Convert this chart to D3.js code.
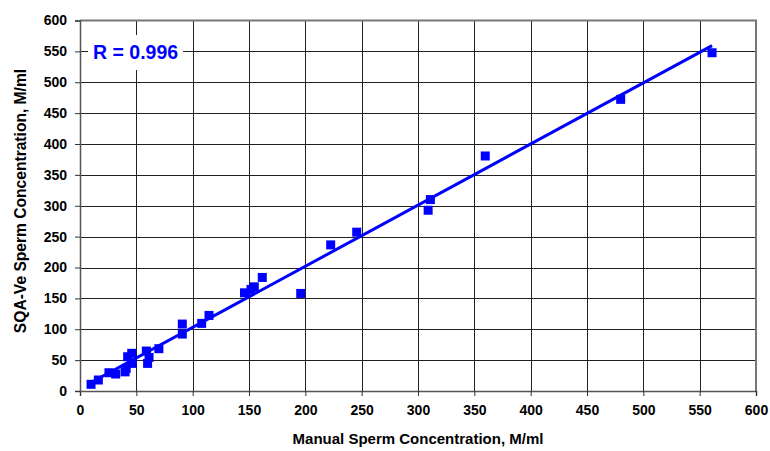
<!DOCTYPE html>
<html>
<head>
<meta charset="utf-8">
<script src="https://cdn.jsdelivr.net/npm/d3@7"></script>
<style>
  body { margin: 0; background: #fff; }
  text { font-family: "Liberation Sans", Arial, sans-serif; font-weight: bold; }
</style>
</head>
<body>
<svg id="chart" width="770" height="451"></svg>
<script>
// manual count (x) vs SQA-Ve (y), M/ml
var manual = [9.8, 16.3, 25.7, 31.7, 40, 41, 42.3, 45.9, 46.5, 58.9, 60, 61.3, 70,
  90.8, 90.8, 108, 114.5, 146, 151.8, 154.7, 161.8, 195.9, 222.5, 245.6,
  309, 311, 359.7, 479.9, 561];
var sqave = [10.8, 17.8, 29.6, 27.5, 31, 36.6, 55.5, 61, 44.7, 64.7, 44.7, 54.4, 68.5,
  108.4, 92.2, 109.5, 122.4, 159, 164.5, 168.7, 183.9, 158, 236.6, 257.2,
  292.7, 310, 380.6, 472.3, 547.8];
var ticks = d3.range(0, 601, 50);
var rLabel = "R = 0.996";
// linear trendline
var fitSlope = 0.99, fitIcpt = 4;

var svg = d3.select('#chart');
var m = {l: 80, r: 756, t: 20.5, b: 391};

var x = d3.scaleLinear().domain([0, 600]).range([m.l, m.r]);
var y = d3.scaleLinear().domain([0, 600]).range([m.b, m.t]);

// grid
svg.append('g').selectAll('line').data(ticks.slice(1, -1)).enter().append('line')
  .attr('x1', function(d){ return Math.round(x(d)) + 0.5; })
  .attr('x2', function(d){ return Math.round(x(d)) + 0.5; })
  .attr('y1', m.t).attr('y2', m.b)
  .attr('stroke', '#222').attr('stroke-width', 1);
svg.append('g').selectAll('line').data(ticks.slice(1, -1)).enter().append('line')
  .attr('y1', function(d){ return Math.round(y(d)) + 0.5; })
  .attr('y2', function(d){ return Math.round(y(d)) + 0.5; })
  .attr('x1', m.l).attr('x2', m.r)
  .attr('stroke', '#222').attr('stroke-width', 1);

// plot border top/right
svg.append('path')
  .attr('d', 'M' + m.l + ',' + m.t + 'H' + m.r + 'V' + m.b)
  .attr('fill', 'none').attr('stroke', '#777').attr('stroke-width', 2);

// axes
var xAxis = d3.axisBottom(x).tickValues(ticks).tickSize(5).tickPadding(6);
var yAxis = d3.axisLeft(y).tickValues(ticks).tickSize(5).tickPadding(6);

var gx = svg.append('g').attr('transform', 'translate(0,' + m.b + ')').call(xAxis);
var gy = svg.append('g').attr('transform', 'translate(' + m.l + ',0)').call(yAxis);
[gx, gy].forEach(function(g){
  g.select('.domain').attr('stroke', '#555').attr('stroke-width', 1.5);
  g.selectAll('.tick line').attr('stroke', '#333');
  g.selectAll('.tick text').attr('fill', '#000').style('font-size', '14px')
   .style('font-family', '"Liberation Sans", Arial, sans-serif').style('font-weight', 'bold');
});
gx.selectAll('.tick text').attr('dy', '0.9em');
gy.selectAll('.tick text').attr('dx', '-2');

// R label box
svg.append('rect').attr('x', 88).attr('y', 35).attr('width', 95).attr('height', 35).attr('fill', '#fff');
svg.append('text').attr('x', 93).attr('y', 59).attr('fill', '#0000ff')
  .style('font-size', '19.5px').text(rLabel);

// trendline over data range
var xr = d3.extent(manual);
svg.append('line')
  .attr('x1', x(xr[0])).attr('y1', y(fitIcpt + fitSlope * xr[0]))
  .attr('x2', x(xr[1])).attr('y2', y(fitIcpt + fitSlope * xr[1]))
  .attr('stroke', '#0000ff').attr('stroke-width', 3);

// points
var s = 9;
svg.append('g').selectAll('rect').data(manual).enter().append('rect')
  .attr('x', function(d){ return x(d) - s / 2; })
  .attr('y', function(d, i){ return y(sqave[i]) - s / 2; })
  .attr('width', s).attr('height', s)
  .attr('fill', '#0000ff');

// titles
svg.append('text').attr('x', 418).attr('y', 444).attr('text-anchor', 'middle')
  .style('font-size', '15px').attr('fill', '#000').text('Manual Sperm Concentration, M/ml');
svg.append('text').attr('transform', 'translate(26,201) rotate(-90)').attr('text-anchor', 'middle')
  .style('font-size', '15.6px').attr('fill', '#000').text('SQA-Ve Sperm Concentration, M/ml');
</script>
</body>
</html>
